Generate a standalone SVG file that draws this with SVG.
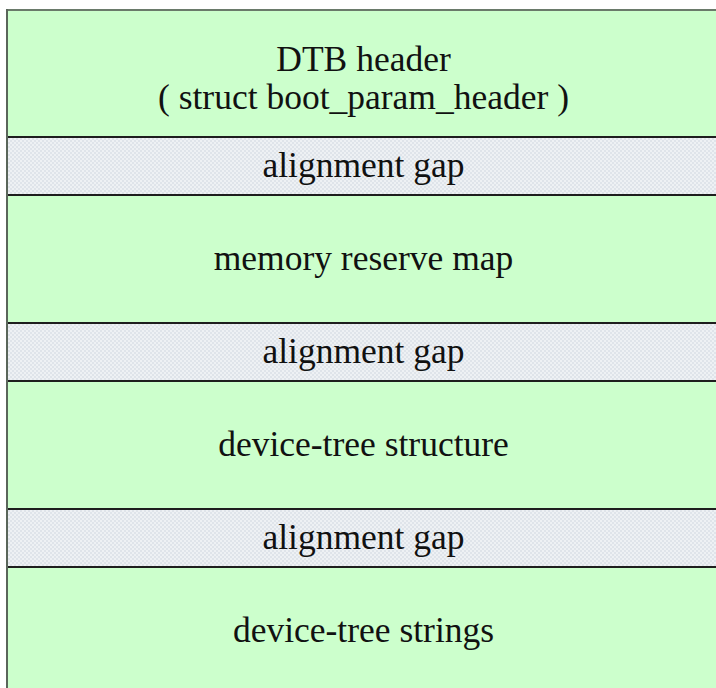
<svg xmlns="http://www.w3.org/2000/svg" width="716" height="688" viewBox="0 0 716 688">
  <defs>
    <!-- fine dotted fill used for the padding bands -->
    <pattern id="dots" width="4" height="4" patternUnits="userSpaceOnUse">
      <rect width="4" height="4" fill="#dfe4ea"/>
      <rect x="0" y="0" width="2" height="2" fill="#eef1f4"/>
      <rect x="2" y="2" width="2" height="2" fill="#eef1f4"/>
    </pattern>
    <style>
      .blk { fill: #ccffcc; }
      .gap { fill: url(#dots); }
      .sep { stroke: #1e1e1e; stroke-width: 2.2; }
      .lbl { font-family: "Liberation Serif", "Times New Roman", serif; font-size: 35.5px; fill: #111; text-anchor: middle; }
    </style>
  </defs>
  <rect width="716" height="688" fill="#ffffff"/>

  <g id="dtb-header">
    <rect class="blk" x="7" y="10" width="713" height="127"/>
    <text class="lbl" x="363.5" y="71">DTB header</text>
    <text class="lbl" x="363.5" y="109">( struct boot_param_header )</text>
  </g>
  <g id="gap-1">
    <rect class="gap" x="7" y="137" width="713" height="58"/>
    <text class="lbl" x="363.5" y="177">alignment gap</text>
  </g>
  <g id="mem-rsvmap">
    <rect class="blk" x="7" y="195" width="713" height="128"/>
    <text class="lbl" x="363.5" y="270">memory reserve map</text>
  </g>
  <g id="gap-2">
    <rect class="gap" x="7" y="323" width="713" height="58"/>
    <text class="lbl" x="363.5" y="363">alignment gap</text>
  </g>
  <g id="dt-struct">
    <rect class="blk" x="7" y="381" width="713" height="128"/>
    <text class="lbl" x="363.5" y="456">device-tree structure</text>
  </g>
  <g id="gap-3">
    <rect class="gap" x="7" y="509" width="713" height="58"/>
    <text class="lbl" x="363.5" y="549">alignment gap</text>
  </g>
  <g id="dt-strings">
    <rect class="blk" x="7" y="567" width="713" height="130"/>
    <text class="lbl" x="363.5" y="642">device-tree strings</text>
  </g>

  <g id="edges">
    <line class="sep" x1="7" y1="137" x2="716" y2="137"/>
    <line class="sep" x1="7" y1="195" x2="716" y2="195"/>
    <line class="sep" x1="7" y1="323" x2="716" y2="323"/>
    <line class="sep" x1="7" y1="381" x2="716" y2="381"/>
    <line class="sep" x1="7" y1="509" x2="716" y2="509"/>
    <line class="sep" x1="7" y1="567" x2="716" y2="567"/>
    <line x1="7" y1="10" x2="716" y2="10" stroke="#6a7a6a" stroke-width="2"/>
    <line x1="7" y1="9" x2="7" y2="688" stroke="#5a665a" stroke-width="2"/>
  </g>
</svg>
